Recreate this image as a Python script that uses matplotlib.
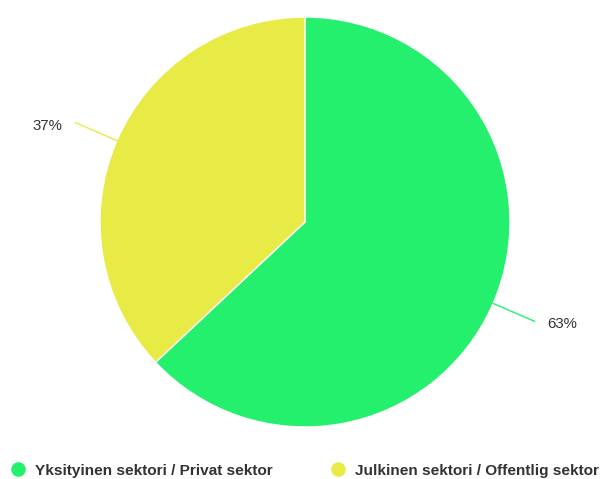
import matplotlib
matplotlib.use("Agg")
import matplotlib.pyplot as plt
import numpy as np

categories = ["Yksityinen sektori / Privat sektor", "Julkinen sektori / Offentlig sektor"]
values = [63, 37]
colors = ["#25F06E", "#E8EA45"]

W, H = 603, 479
fig = plt.figure(figsize=(W / 100, H / 100), dpi=100)
ax = fig.add_axes([0, 0, 1, 1])
ax.set_xlim(0, W)
ax.set_ylim(0, H)
ax.set_aspect("equal")
ax.axis("off")

cx, cy, r = 305, H - 222, 205
wedges, _ = ax.pie(values, colors=colors, startangle=90, counterclock=False,
                   radius=r, center=(cx, cy),
                   wedgeprops=dict(edgecolor="white", linewidth=1))
ax.set_xlim(0, W)
ax.set_ylim(0, H)

total = sum(values)
start = 90
for v, c in zip(values, colors):
    ang = start - v / total * 360 / 2
    start -= v / total * 360
    a = np.deg2rad(ang)
    x0, y0 = cx + r * np.cos(a), cy + r * np.sin(a)
    x1, y1 = cx + (r + 45) * np.cos(a), cy + (r + 45) * np.sin(a)
    sgn = 1 if np.cos(a) > 0 else -1
    ax.plot([x0, x1], [y0, y1], color=c, lw=1)
    ax.text(x1 + sgn * 13, y1 - 3, f"{v}%", ha="left" if sgn > 0 else "right",
            va="center", fontsize=10.8, color="#333333", family="Liberation Sans")

# legend
leg_x = [18, 338]
leg_y = H - 469
for x, lab, c in zip(leg_x, categories, colors):
    ax.scatter([x], [leg_y], s=110, color=c, zorder=3, linewidths=0)
    ax.text(x + 17, H - 475.5, lab, ha="left", va="baseline", fontsize=11.1,
            fontweight="bold", color="#333333", family="Liberation Sans")

fig.savefig("out.png", dpi=100)
